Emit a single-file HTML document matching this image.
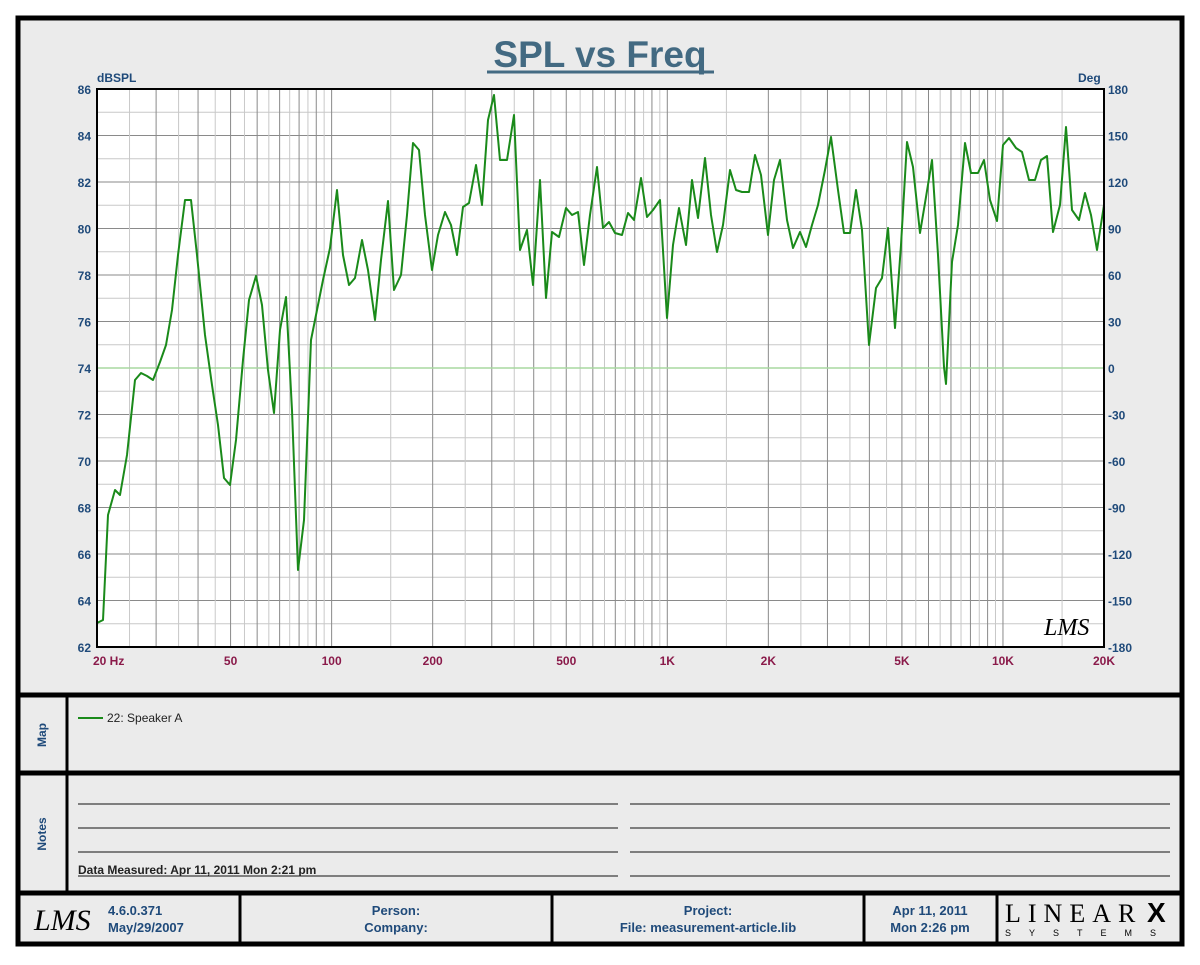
<!DOCTYPE html>
<html><head><meta charset="utf-8"><style>
body{margin:0;width:1200px;height:960px;background:#fff;overflow:hidden;font-family:"Liberation Sans",Arial,sans-serif}
</style></head><body>
<svg id="s" width="1200" height="960" xmlns="http://www.w3.org/2000/svg" font-family="Liberation Sans, Arial, sans-serif">
<rect x="18" y="18" width="1164" height="926" fill="#ebebeb" stroke="#000" stroke-width="5"/>
<text x="600" y="67" text-anchor="middle" font-size="37" font-weight="bold" fill="#436a82">SPL vs Freq</text>
<line x1="487" y1="72" x2="714" y2="72" stroke="#436a82" stroke-width="3"/>
<rect x="97" y="89" width="1007" height="558" fill="#fff"/>
<g id="grid"></g>
<line x1="97" y1="368" x2="1104" y2="368" stroke="#a8d8a0" stroke-width="1.5"/>
<polyline id="curve" fill="none" stroke="#1a8a1a" stroke-width="2" stroke-linejoin="round"/>
<rect x="97" y="89" width="1007" height="558" fill="none" stroke="#000" stroke-width="2"/>
<text x="1044" y="635" font-size="24" font-style="italic" font-family="Liberation Serif, serif" fill="#000">LMS</text>
<g id="lab" font-size="12" font-weight="bold"></g>
<text x="97" y="82" font-size="12" font-weight="bold" fill="#1f4a7a">dBSPL</text>
<text x="1078" y="82" font-size="12" font-weight="bold" fill="#1f4a7a">Deg</text>
<line x1="18" y1="695" x2="1182" y2="695" stroke="#000" stroke-width="5"/>
<line x1="18" y1="773" x2="1182" y2="773" stroke="#000" stroke-width="5"/>
<line x1="18" y1="893" x2="1182" y2="893" stroke="#000" stroke-width="5"/>
<line x1="67" y1="695" x2="67" y2="893" stroke="#000" stroke-width="3"/>
<text transform="translate(46,735) rotate(-90)" text-anchor="middle" font-size="12" font-weight="bold" fill="#1f4a7a">Map</text>
<text transform="translate(46,834) rotate(-90)" text-anchor="middle" font-size="12" font-weight="bold" fill="#1f4a7a">Notes</text>
<line x1="78" y1="718" x2="103" y2="718" stroke="#1a8a1a" stroke-width="2"/>
<text x="107" y="722" font-size="12" fill="#222">22: Speaker A</text>
<g stroke="#111" stroke-width="1">
<line x1="78" y1="804" x2="618" y2="804"/><line x1="630" y1="804" x2="1170" y2="804"/>
<line x1="78" y1="828" x2="618" y2="828"/><line x1="630" y1="828" x2="1170" y2="828"/>
<line x1="78" y1="852" x2="618" y2="852"/><line x1="630" y1="852" x2="1170" y2="852"/>
<line x1="78" y1="876" x2="618" y2="876"/><line x1="630" y1="876" x2="1170" y2="876"/>
</g>
<text x="78" y="874" font-size="12" font-weight="bold" fill="#222">Data Measured: Apr 11, 2011  Mon  2:21 pm</text>
<g stroke="#000" stroke-width="3">
<line x1="240" y1="893" x2="240" y2="944"/><line x1="552" y1="893" x2="552" y2="944"/>
<line x1="864" y1="893" x2="864" y2="944"/><line x1="997" y1="893" x2="997" y2="944"/>
</g>
<text x="34" y="930" font-size="30" font-style="italic" font-family="Liberation Serif, serif" fill="#000">LMS</text>
<g font-size="13" font-weight="bold" fill="#1f4a7a">
<text x="108" y="915">4.6.0.371</text><text x="108" y="932">May/29/2007</text>
<text x="396" y="915" text-anchor="middle">Person:</text><text x="396" y="932" text-anchor="middle">Company:</text>
<text x="708" y="915" text-anchor="middle">Project:</text><text x="708" y="932" text-anchor="middle">File: measurement-article.lib</text>
<text x="930" y="915" text-anchor="middle">Apr 11, 2011</text><text x="930" y="932" text-anchor="middle">Mon  2:26 pm</text>
</g>
<text x="1005" y="922" font-size="26" font-family="Liberation Serif, serif" letter-spacing="7" fill="#000">LINEAR</text>
<text x="1147" y="922" font-size="28" font-weight="bold" fill="#000">X</text>
<text x="1005" y="936" font-size="9" letter-spacing="18" fill="#000">SYSTEMS</text>
</svg>
<script>
var NS="http://www.w3.org/2000/svg",g=document.getElementById('grid'),lab=document.getElementById('lab');
function L(x1,y1,x2,y2,c,w){var e=document.createElementNS(NS,'line');e.setAttribute('x1',x1);e.setAttribute('y1',y1);e.setAttribute('x2',x2);e.setAttribute('y2',y2);e.setAttribute('stroke',c);e.setAttribute('stroke-width',w);g.appendChild(e);}
function T(x,y,s,c,a){var e=document.createElementNS(NS,'text');e.setAttribute('x',x);e.setAttribute('y',y);e.setAttribute('fill',c);if(a)e.setAttribute('text-anchor',a);e.textContent=s;lab.appendChild(e);}
function fx(f){return 97+335.67*Math.log10(f/20);}
for(var d=0;d<=24;d++){var y=89+d*23.25;L(97,y,1104,y,d%2?'#c8c8c8':'#8a8a8a',1);}
[10,100,1000,10000].forEach(function(dec){for(var m=1;m<10;m+=0.5){var f=dec*m;if(f<=20||f>=20000)continue;var x=fx(f);L(x,89,x,647,(m%1)?'#c8c8c8':'#8a8a8a',1);}});
for(var i=0;i<=12;i++){var y=89+i*46.5;T(91,y+5,String(86-2*i),'#1f4a7a','end');T(1108,y+5,String(180-30*i),'#1f4a7a');}
[[20,'20  Hz',93],[50,'50'],[100,'100'],[200,'200'],[500,'500'],[1000,'1K'],[2000,'2K'],[5000,'5K'],[10000,'10K'],[20000,'20K']].forEach(function(a){var x=a[2]||fx(a[0]);T(x,665,a[1],'#8a1a4a',a[2]?null:'middle');});
var p="97,623 103,620 108,515 115,490 120,495 127,455 135,380 141,373 147,376 153,380 160,362 166,345 172,310 178,255 185,200 191,200 197,255 205,335 212,385 218,425 224,478 230,485 236,440 243,360 249,300 256,276 262,305 268,370 274,413 280,330 286,297 292,410 298,570 304,520 311,340 317,310 323,280 330,248 337,190 343,255 349,285 355,278 362,240 368,270 375,320 381,260 388,201 394,290 401,275 407,215 413,143 419,150 425,215 432,270 438,235 445,212 451,225 457,255 463,207 469,203 476,165 482,205 488,120 494,95 500,160 507,160 514,115 520,250 527,230 533,285 540,180 546,298 552,232 559,237 566,208 572,215 578,212 584,265 590,215 597,167 603,228 609,222 615,233 622,235 628,213 634,220 641,178 647,217 653,210 660,200 667,318 673,245 679,208 686,245 692,180 698,218 705,158 711,215 717,252 723,225 730,170 736,190 742,192 749,192 755,155 761,175 768,235 774,180 780,160 787,220 793,248 800,232 806,247 812,225 818,205 825,170 831,137 838,190 844,233 850,233 856,190 862,230 869,345 876,288 882,278 888,228 895,328 901,245 907,142 913,167 920,233 926,197 932,160 938,255 944,367 946,384 952,262 958,225 965,143 971,173 978,173 984,160 990,200 997,221 1003,145 1009,138 1016,148 1022,152 1029,180 1035,180 1041,160 1047,156 1053,232 1060,205 1066,127 1072,210 1079,220 1085,193 1091,215 1097,250 1104,205";
document.getElementById('curve').setAttribute('points',p);
</script>
</body></html>
